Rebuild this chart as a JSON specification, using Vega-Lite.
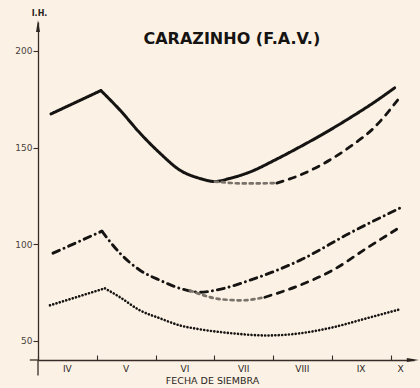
{
  "$schema": "https://vega.github.io/schema/vega-lite/v6.json",
  "width": 376,
  "height": 338,
  "autosize": "none",
  "padding": {"left": 38, "top": 22, "right": 6, "bottom": 28},
  "background": "#fbf2e5",
  "config": {"view": {"stroke": null}, "axis": {"grid": false}},
  "datasets": {
    "curves": [
      {"seg": "s1a", "st": "solid", "m": 4.221, "v": 167.4},
      {"seg": "s1a", "st": "solid", "m": 5.071, "v": 179.5},
      {"seg": "s1b", "st": "solid", "m": 5.071, "v": 179.5},
      {"seg": "s1b", "st": "solid", "m": 5.395, "v": 169.4},
      {"seg": "s1b", "st": "solid", "m": 5.735, "v": 157.5},
      {"seg": "s1b", "st": "solid", "m": 6.075, "v": 147.1},
      {"seg": "s1b", "st": "solid", "m": 6.415, "v": 138.3},
      {"seg": "s1b", "st": "solid", "m": 6.755, "v": 134.0},
      {"seg": "s1b", "st": "solid", "m": 7.010, "v": 132.4},
      {"seg": "s1b", "st": "solid", "m": 7.265, "v": 134.0},
      {"seg": "s1b", "st": "solid", "m": 7.605, "v": 137.3},
      {"seg": "s1b", "st": "solid", "m": 8.031, "v": 143.5},
      {"seg": "s1b", "st": "solid", "m": 8.456, "v": 150.3},
      {"seg": "s1b", "st": "solid", "m": 8.881, "v": 157.5},
      {"seg": "s1b", "st": "solid", "m": 9.306, "v": 165.3},
      {"seg": "s1b", "st": "solid", "m": 9.731, "v": 173.6},
      {"seg": "s1b", "st": "solid", "m": 10.071, "v": 180.9},
      {"seg": "s2t", "st": "thin", "m": 7.010, "v": 132.4},
      {"seg": "s2t", "st": "thin", "m": 7.520, "v": 131.4},
      {"seg": "s2t", "st": "thin", "m": 8.065, "v": 131.6},
      {"seg": "s2d", "st": "dashed", "m": 8.065, "v": 131.6},
      {"seg": "s2d", "st": "dashed", "m": 8.456, "v": 135.7},
      {"seg": "s2d", "st": "dashed", "m": 8.881, "v": 142.0},
      {"seg": "s2d", "st": "dashed", "m": 9.306, "v": 150.3},
      {"seg": "s2d", "st": "dashed", "m": 9.731, "v": 160.6},
      {"seg": "s2d", "st": "dashed", "m": 10.122, "v": 174.6},
      {"seg": "s3a", "st": "dashdot", "m": 4.255, "v": 95.3},
      {"seg": "s3a", "st": "dashdot", "m": 5.088, "v": 106.7},
      {"seg": "s3b", "st": "dashdot", "m": 5.088, "v": 106.7},
      {"seg": "s3b", "st": "dashdot", "m": 5.395, "v": 95.3},
      {"seg": "s3b", "st": "dashdot", "m": 5.735, "v": 86.5},
      {"seg": "s3b", "st": "dashdot", "m": 6.075, "v": 81.3},
      {"seg": "s3b", "st": "dashdot", "m": 6.415, "v": 77.1},
      {"seg": "s3b", "st": "dashdot", "m": 6.755, "v": 75.1},
      {"seg": "s3b", "st": "dashdot", "m": 7.095, "v": 76.6},
      {"seg": "s3b", "st": "dashdot", "m": 7.605, "v": 81.3},
      {"seg": "s3b", "st": "dashdot", "m": 8.456, "v": 91.6},
      {"seg": "s3b", "st": "dashdot", "m": 9.306, "v": 105.7},
      {"seg": "s3b", "st": "dashdot", "m": 10.156, "v": 118.6},
      {"seg": "s4t", "st": "thin", "m": 6.585, "v": 76.0},
      {"seg": "s4t", "st": "thin", "m": 7.129, "v": 71.4},
      {"seg": "s4t", "st": "thin", "m": 7.469, "v": 70.9},
      {"seg": "s4t", "st": "thin", "m": 7.861, "v": 72.5},
      {"seg": "s4d", "st": "dashed", "m": 7.861, "v": 72.5},
      {"seg": "s4d", "st": "dashed", "m": 8.456, "v": 78.7},
      {"seg": "s4d", "st": "dashed", "m": 9.017, "v": 86.5},
      {"seg": "s4d", "st": "dashed", "m": 9.595, "v": 97.9},
      {"seg": "s4d", "st": "dashed", "m": 10.105, "v": 107.7},
      {"seg": "s5a", "st": "dotted", "m": 4.204, "v": 68.3},
      {"seg": "s5a", "st": "dotted", "m": 5.139, "v": 77.1},
      {"seg": "s5b", "st": "dotted", "m": 5.139, "v": 77.1},
      {"seg": "s5b", "st": "dotted", "m": 5.395, "v": 72.5},
      {"seg": "s5b", "st": "dotted", "m": 5.735, "v": 65.7},
      {"seg": "s5b", "st": "dotted", "m": 6.075, "v": 61.6},
      {"seg": "s5b", "st": "dotted", "m": 6.415, "v": 57.9},
      {"seg": "s5b", "st": "dotted", "m": 6.755, "v": 55.9},
      {"seg": "s5b", "st": "dotted", "m": 7.316, "v": 53.8},
      {"seg": "s5b", "st": "dotted", "m": 7.895, "v": 52.7},
      {"seg": "s5b", "st": "dotted", "m": 8.456, "v": 53.8},
      {"seg": "s5b", "st": "dotted", "m": 9.017, "v": 56.9},
      {"seg": "s5b", "st": "dotted", "m": 9.595, "v": 61.6},
      {"seg": "s5b", "st": "dotted", "m": 10.156, "v": 66.2}
    ],
    "months": [
      {"lab": "IV", "m": 4.5},
      {"lab": "V", "m": 5.5},
      {"lab": "VI", "m": 6.5},
      {"lab": "VII", "m": 7.5},
      {"lab": "VIII", "m": 8.5},
      {"lab": "IX", "m": 9.5},
      {"lab": "X", "m": 10.17}
    ]
  },
  "layer": [
    {
      "data": {"name": "curves"},
      "mark": {"type": "line", "interpolate": "monotone", "strokeCap": "round", "strokeJoin": "round"},
      "encoding": {
        "x": {
          "field": "m", "type": "quantitative",
          "scale": {"domain": [4, 10.4], "nice": false, "zero": false},
          "axis": {
            "values": [4, 5, 6, 7, 8, 9, 10],
            "labels": false,
            "tickSize": -5,
            "tickColor": "#3a2b26",
            "tickWidth": 1.1,
            "domainColor": "#3a2b26",
            "domainWidth": 1.3,
            "title": "FECHA DE SIEMBRA",
            "titleFont": "DejaVu Sans",
            "titleFontSize": 9.5,
            "titleFontWeight": "normal",
            "titleColor": "#2b2521",
            "titleX": 174,
            "titleY": 15,
            "titleBaseline": "top"
          }
        },
        "y": {
          "field": "v", "type": "quantitative",
          "scale": {"domain": [40, 215], "nice": false, "zero": false},
          "axis": {
            "values": [50, 100, 150, 200],
            "tickSize": 5,
            "tickColor": "#3a2b26",
            "tickWidth": 1.1,
            "domainColor": "#3a2b26",
            "domainWidth": 1.3,
            "labelFont": "DejaVu Sans",
            "labelFontSize": 9,
            "labelColor": "#4a423c",
            "labelPadding": 1,
            "title": "I.H.",
            "titleFont": "DejaVu Sans",
            "titleFontSize": 8,
            "titleFontWeight": "bold",
            "titleColor": "#2b2521",
            "titleAngle": 0,
            "titleX": 1,
            "titleY": -9,
            "titleAlign": "center",
            "titleBaseline": "middle"
          }
        },
        "detail": {"field": "seg"},
        "strokeDash": {
          "field": "st", "type": "nominal",
          "scale": {
            "domain": ["solid", "dashdot", "dashed", "thin", "dotted"],
            "range": [[1, 0], [7, 5, 0.1, 5], [6.5, 6.5], [3, 4], [0.1, 3.3]]
          },
          "legend": null
        },
        "strokeWidth": {
          "field": "st", "type": "nominal",
          "scale": {
            "domain": ["solid", "dashdot", "dashed", "thin", "dotted"],
            "range": [3, 2.6, 2.8, 1, 2.2]
          },
          "legend": null
        },
        "color": {
          "field": "st", "type": "nominal",
          "scale": {
            "domain": ["solid", "dashdot", "dashed", "thin", "dotted"],
            "range": ["#161412", "#161412", "#161412", "#7a736b", "#161412"]
          },
          "legend": null
        }
      }
    },
    {
      "data": {"values": [{}]},
      "mark": {"type": "rule", "color": "#3a2b26", "strokeWidth": 1.3},
      "encoding": {
        "x": {"datum": 4, "type": "quantitative"},
        "y": {"datum": 32, "type": "quantitative"},
        "y2": {"datum": 40}
      }
    },
    {
      "data": {"values": [{}]},
      "mark": {"type": "rule", "color": "#3a2b26", "strokeWidth": 1.3},
      "encoding": {
        "x": {"datum": 3.86, "type": "quantitative"},
        "x2": {"datum": 4},
        "y": {"datum": 40, "type": "quantitative"}
      }
    },
    {
      "data": {"name": "months"},
      "mark": {"type": "text", "font": "DejaVu Sans", "fontSize": 9, "color": "#2b2521", "baseline": "middle", "align": "center"},
      "encoding": {
        "x": {"field": "m", "type": "quantitative"},
        "y": {"datum": 35.1, "type": "quantitative"},
        "text": {"field": "lab"}
      }
    },
    {
      "data": {"values": [{}]},
      "mark": {"type": "text", "font": "DejaVu Sans", "fontSize": 16, "fontWeight": "bold", "color": "#161412", "baseline": "middle", "align": "center"},
      "encoding": {
        "x": {"datum": 7.3, "type": "quantitative"},
        "y": {"datum": 206.3, "type": "quantitative"},
        "text": {"value": "CARAZINHO (F.A.V.)"}
      }
    },
    {
      "data": {"values": [{}]},
      "mark": {"type": "point", "shape": "M-0.33,1L0,-1L0.33,1Z", "filled": true, "size": 144, "color": "#2b2521", "opacity": 1},
      "encoding": {
        "x": {"datum": 4, "type": "quantitative"},
        "y": {"datum": 212.9, "type": "quantitative"}
      }
    },
    {
      "data": {"values": [{}]},
      "mark": {"type": "point", "shape": "M-1,-0.33L1,0L-1,0.33Z", "filled": true, "size": 144, "color": "#2b2521", "opacity": 1},
      "encoding": {
        "x": {"datum": 10.38, "type": "quantitative"},
        "y": {"datum": 40, "type": "quantitative"}
      }
    }
  ]
}
